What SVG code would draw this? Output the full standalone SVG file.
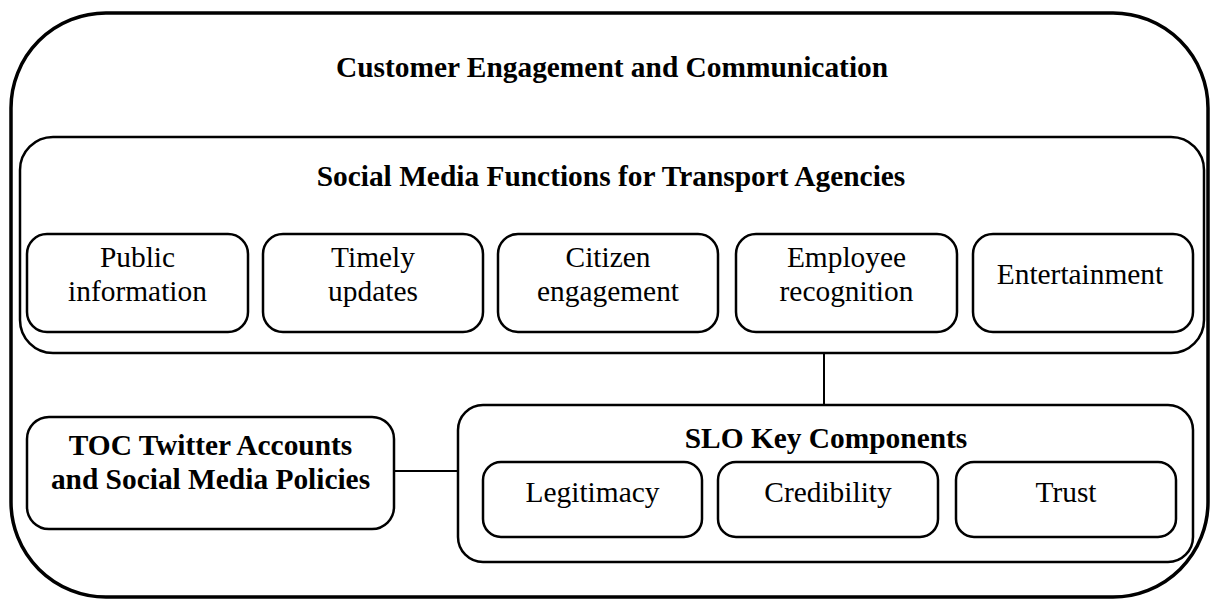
<svg xmlns="http://www.w3.org/2000/svg" width="1211" height="600" viewBox="0 0 1211 600">
  <style>
    .box { fill: none; stroke: #000; stroke-width: 2.5; }
    .outer { fill: none; stroke: #000; stroke-width: 3.5; }
    .link { fill: none; stroke: #000; stroke-width: 2; }
    text { font-family: "Liberation Serif", "Times New Roman", serif; fill: #000; text-anchor: middle; }
    .head { font-size: 29.4px; font-weight: bold; }
    .item { font-size: 29.4px; }
  </style>
  <rect width="1211" height="600" fill="#fff"/>

  <g id="customer-engagement">
    <rect class="outer" x="11" y="13" width="1197" height="584" rx="95" ry="95"/>
    <text class="head" x="612" y="77">Customer Engagement and Communication</text>
  </g>

  <g id="social-media-functions">
    <rect class="box" x="20" y="137" width="1184" height="216" rx="33" ry="33"/>
    <text class="head" x="611" y="186">Social Media Functions for Transport Agencies</text>
  </g>

  <g id="public-information">
    <rect class="box" x="27" y="234" width="221" height="98" rx="20" ry="20"/>
    <text class="item" x="137.5" y="267">Public</text>
    <text class="item" x="137.5" y="301">information</text>
  </g>

  <g id="timely-updates">
    <rect class="box" x="263" y="234" width="220" height="98" rx="20" ry="20"/>
    <text class="item" x="373" y="267">Timely</text>
    <text class="item" x="373" y="301">updates</text>
  </g>

  <g id="citizen-engagement">
    <rect class="box" x="498" y="234" width="220" height="98" rx="20" ry="20"/>
    <text class="item" x="608" y="267">Citizen</text>
    <text class="item" x="608" y="301">engagement</text>
  </g>

  <g id="employee-recognition">
    <rect class="box" x="736" y="234" width="221" height="98" rx="20" ry="20"/>
    <text class="item" x="846.5" y="267">Employee</text>
    <text class="item" x="846.5" y="301">recognition</text>
  </g>

  <g id="entertainment">
    <rect class="box" x="973" y="234" width="220" height="98" rx="20" ry="20"/>
    <text class="item" x="1080" y="284">Entertainment</text>
  </g>

  <g id="toc-accounts">
    <rect class="box" x="27" y="417" width="367" height="112" rx="22" ry="22"/>
    <text class="head" x="210.5" y="455">TOC Twitter Accounts</text>
    <text class="head" x="210.5" y="489">and Social Media Policies</text>
  </g>

  <g id="slo-key-components">
    <rect class="box" x="458" y="405" width="735" height="157" rx="25" ry="25"/>
    <text class="head" x="826" y="448">SLO Key Components</text>
  </g>

  <g id="legitimacy">
    <rect class="box" x="483" y="462" width="219" height="75" rx="18" ry="18"/>
    <text class="item" x="592.5" y="502">Legitimacy</text>
  </g>

  <g id="credibility">
    <rect class="box" x="718" y="462" width="220" height="75" rx="18" ry="18"/>
    <text class="item" x="828" y="502">Credibility</text>
  </g>

  <g id="trust">
    <rect class="box" x="956" y="462" width="220" height="75" rx="18" ry="18"/>
    <text class="item" x="1066" y="502">Trust</text>
  </g>

  <g id="connectors">
    <line class="link" x1="824" y1="353" x2="824" y2="405"/>
    <line class="link" x1="394" y1="471" x2="458" y2="471"/>
  </g>
</svg>
